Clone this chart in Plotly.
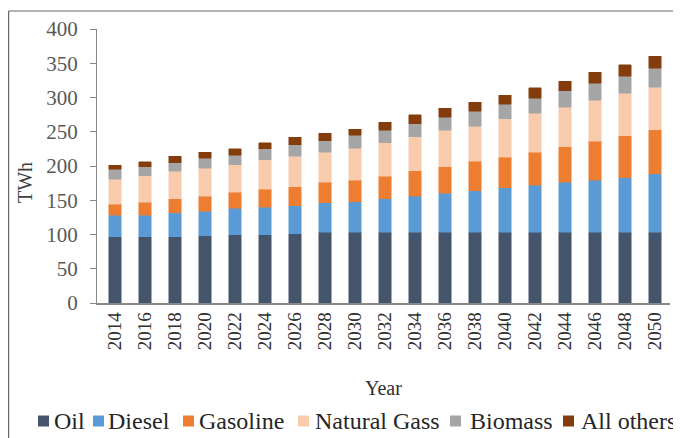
import plotly.graph_objects as go

years = [str(y) for y in range(2014, 2051, 2)]
oil      = [97, 97, 97, 98, 100, 100, 101, 103, 103, 103, 103, 103, 103, 103, 103, 103, 103, 103, 103]
diesel   = [31, 31, 35, 36, 38, 40, 41, 43, 45, 49, 53, 57, 61, 65, 69, 73, 76, 80, 86]
gasoline = [16, 19, 20, 22, 24, 26, 28, 30, 31, 33, 37, 39, 43, 45, 48, 52, 57, 61, 64]
natgas   = [37, 39, 40, 41, 40, 43, 44, 44, 47, 49, 50, 53, 51, 56, 57, 58, 60, 62, 62]
biomass  = [14, 13, 13, 14, 14, 16, 17, 17, 19, 18, 19, 19, 22, 21, 22, 24, 25, 25, 28]
others   = [6, 7, 9, 9, 9, 9, 11, 11, 9, 12, 13, 13, 13, 13, 15, 14, 16, 17, 17]

names  = ["Oil", "Diesel", "Gasoline", "Natural Gass", "Biomass", "All others"]
values = [oil, diesel, gasoline, natgas, biomass, others]
colors = ["#44546A", "#5B9BD5", "#ED7D31", "#F8CBAD", "#A5A5A5", "#843C0C"]

FONT = "Liberation Serif, Times New Roman, serif"
fig = go.Figure()
for name, vals, col in zip(names, values, colors):
    fig.add_trace(go.Bar(x=years, y=vals, name=name,
                         marker=dict(color=col, line=dict(color=col, width=0.5))))

# page body has an 8px margin: figure pixel = reference pixel - 8
FW, FH = 673, 430
L, R, T, B = 89, 11, 21, 135
W = FW - L - R
H = FH - T - B

def px(X):   # reference page pixel -> paper x
    return (X - 8 - L) / W

def py(Y):   # reference page pixel -> paper y
    return (FH - B - (Y - 8)) / H

# legend item layout (reference pixels): square left edge, text left edge
sq_left  = [38, 93, 183, 298, 450, 563]
txt_left = [52, 106, 197, 313, 468, 579]
SQ = 11
LEG_Y = 421

shapes = [
    dict(type="line", xref="paper", yref="paper", x0=px(8.6), x1=px(681), y0=py(11), y1=py(11),
         line=dict(color="#666666", width=1.2)),
    dict(type="line", xref="paper", yref="paper", x0=px(8.6), x1=px(8.6), y0=py(11), y1=py(440),
         line=dict(color="#666666", width=1.2)),
]
annotations = [
    dict(text="Year", x=px(383), y=py(388), xref="paper", yref="paper", showarrow=False,
         xanchor="center", yanchor="middle", font=dict(family=FONT, size=20, color="#303030")),
    dict(text="TWh", x=px(25), y=py(183), xref="paper", yref="paper", showarrow=False,
         xanchor="center", yanchor="middle", textangle=-90,
         font=dict(family=FONT, size=20, color="#404040")),
]
for name, col, sx, tx in zip(names, colors, sq_left, txt_left):
    shapes.append(dict(type="rect", xref="paper", yref="paper",
                       x0=px(sx), x1=px(sx + SQ), y0=py(LEG_Y + SQ / 2), y1=py(LEG_Y - SQ / 2),
                       fillcolor=col, line=dict(width=0)))
    annotations.append(dict(text=name, x=px(tx), y=py(LEG_Y), xref="paper", yref="paper",
                            showarrow=False, xanchor="left", yanchor="middle",
                            font=dict(family=FONT, size=24, color="#262626")))

fig.update_layout(
    barmode="stack",
    bargap=0.59,
    width=FW, height=FH,
    margin=dict(l=L, r=R, t=T, b=B, autoexpand=False),
    paper_bgcolor="white", plot_bgcolor="white",
    font=dict(family=FONT, color="#595959"),
    showlegend=False,
    xaxis=dict(type="category", range=[-0.6, 18.5], tickangle=-90, showline=True,
               linecolor="#888888", linewidth=1.5, ticks="", showgrid=False,
               tickfont=dict(family=FONT, size=19, color="#303030")),
    yaxis=dict(range=[0, 400], dtick=50, showline=True, linecolor="#888888", linewidth=1.2,
               ticks="outside", ticklen=6, tickcolor="#888888", showgrid=False, zeroline=False,
               ticklabelstandoff=8,
               tickfont=dict(family=FONT, size=21, color="#595959")),
    annotations=annotations,
    shapes=shapes,
)

fig.write_html("out.html")
